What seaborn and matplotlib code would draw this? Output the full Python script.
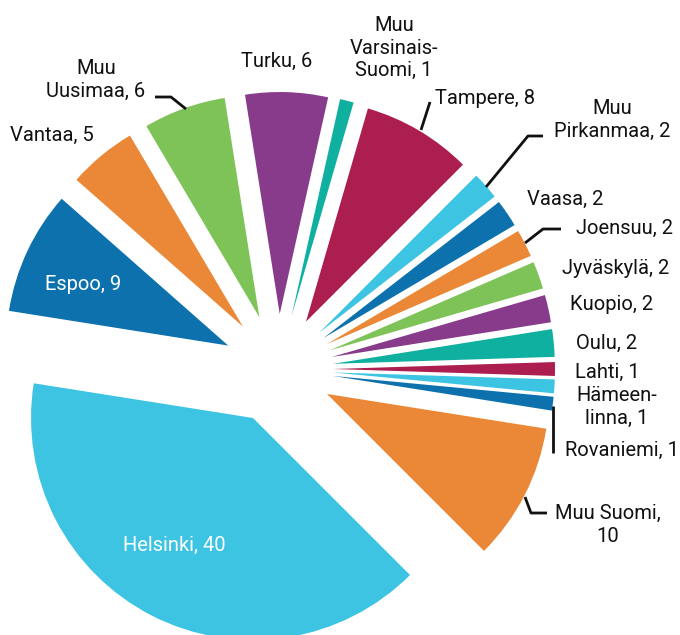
import matplotlib
matplotlib.use("Agg")
import matplotlib.pyplot as plt
import seaborn as sns

# ---- data ----
categories = ["Helsinki", "Espoo", "Vantaa", "Muu\nUusimaa", "Turku",
              "Muu\nVarsinais-\nSuomi", "Tampere", "Muu\nPirkanmaa", "Vaasa",
              "Joensuu", "Jyväskylä", "Kuopio", "Oulu", "Lahti",
              "Hämeen-\nlinna", "Rovaniemi", "Muu Suomi,\n"]
values = [40, 9, 5, 6, 6, 1, 8, 2, 2, 2, 2, 2, 2, 1, 1, 1, 10]
base_colors = ["#3DC4E3", "#0C71AD", "#EB8837", "#7DC357", "#883B8A",
               "#10B0A0", "#AB1E4F"]

# ---- label layout (pixel coords of the reference, y downward) ----
label_pos = [(174, 545), (83, 285), (52, 135), (96, 80), (277, 61),
             (394, 48), (485, 99), (612, 120), (565, 199),
             (624, 228), (616, 268), (612, 305), (607, 343), (607, 372),
             (617, 407), (622, 450), (608, 525)]
inside = [True, True] + [False] * 15
leaders = {
    3: [(155, 97), (171, 97), (186, 109)],
    6: [(430, 102), (421, 130)],
    7: [(543, 136), (528, 136), (486, 187)],
    9: [(561, 229), (543, 229), (525, 243)],
    15: [(553, 406), (553, 453)],
    16: [(525, 497), (531, 513), (547, 513)],
}

W, H = 680, 635
sns.set_theme(style="white")
plt.rcParams["font.family"] = ["Roboto", "DejaVu Sans"]

colors = sns.color_palette([base_colors[i % len(base_colors)] for i in range(len(values))])

fig = plt.figure(figsize=(W / 100, H / 100), dpi=100)
ax = fig.add_axes([0, 0, 1, 1])

cx, cy, R, gap = 278, 369, 222, 55
ax.pie(values, colors=colors, startangle=-45, counterclock=False,
       center=(cx, H - cy), radius=R, explode=[gap] * len(values),
       wedgeprops=dict(linewidth=0), frame=False)

for i, (name, val) in enumerate(zip(categories, values)):
    x, y = label_pos[i]
    if name.endswith("\n"):
        txt = name + f"{val}"
    else:
        txt = f"{name}, {val}"
    ax.text(x, H - y, txt, ha="center", va="center", fontsize=14.5,
            color="white" if inside[i] else "#111111", linespacing=1.22)

for i, pts in leaders.items():
    xs = [p[0] for p in pts]
    ys = [H - p[1] for p in pts]
    ax.plot(xs, ys, color="#111111", lw=2, solid_capstyle="butt")

ax.set_xlim(0, W)
ax.set_ylim(0, H)
ax.set_aspect("equal")
ax.axis("off")
fig.savefig("out.png", dpi=100)
